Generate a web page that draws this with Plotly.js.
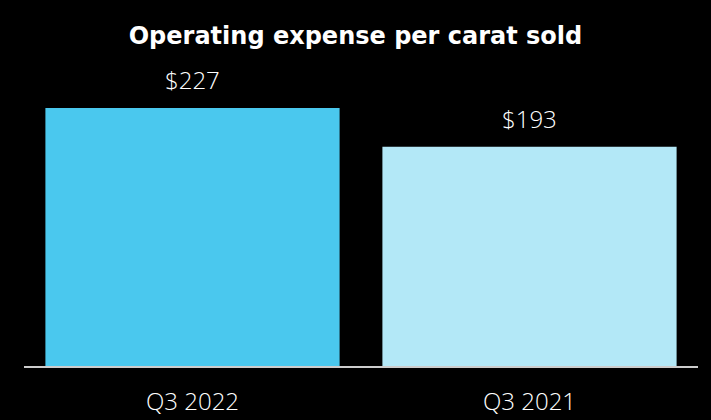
<!DOCTYPE html>
<html><head><meta charset="utf-8">
<script src="https://cdn.plot.ly/plotly-3.0.1.min.js"></script>
<style>html,body{margin:0;padding:0;background:#000;}</style>
</head><body>
<div id="chart" style="width:711px;height:420px;"></div>
<script>
const categories = ["Q3 2022", "Q3 2021"];
const values = [227, 193];
const valueLabels = ["$227", "$193"];
const barColors = ["#4AC8EE", "#B3E8F7"];

const trace = {
  type: "bar",
  x: categories,
  y: values,
  marker: {color: barColors},
  hoverinfo: "skip"
};

const annotations = categories.map((c, i) => ({
  x: c, y: values[i], xref: "x", yref: "y",
  text: valueLabels[i], showarrow: false,
  yanchor: "bottom", yshift: 10,
  font: {family: "Open Sans, sans-serif", size: 24, weight: 300, color: "#ffffff"}
}));

const layout = {
  width: 711, height: 420,
  paper_bgcolor: "#000000", plot_bgcolor: "#000000",
  margin: {l: 24, r: 13, t: 60, b: 54},
  bargap: 0.127,
  showlegend: false,
  title: {
    text: "<b>Operating expense per carat sold</b>",
    font: {family: "DejaVu Sans, sans-serif", size: 24, color: "#ffffff"},
    x: 0.5, xanchor: "center", y: 1 - 36/420, yanchor: "middle"
  },
  xaxis: {
    type: "category",
    showline: true, linecolor: "#cccccc", linewidth: 2,
    ticks: "", showgrid: false, zeroline: false,
    tickfont: {family: "Open Sans, sans-serif", size: 24, weight: 300, color: "#ffffff"},
    ticklabelstandoff: 13
  },
  yaxis: {
    range: [0, 306 / (258 / 227)],
    showgrid: false, zeroline: false, showticklabels: false, ticks: "", showline: false
  },
  annotations: annotations
};

Plotly.newPlot("chart", [trace], layout, {displayModeBar: false, staticPlot: true});
</script>
</body></html>
